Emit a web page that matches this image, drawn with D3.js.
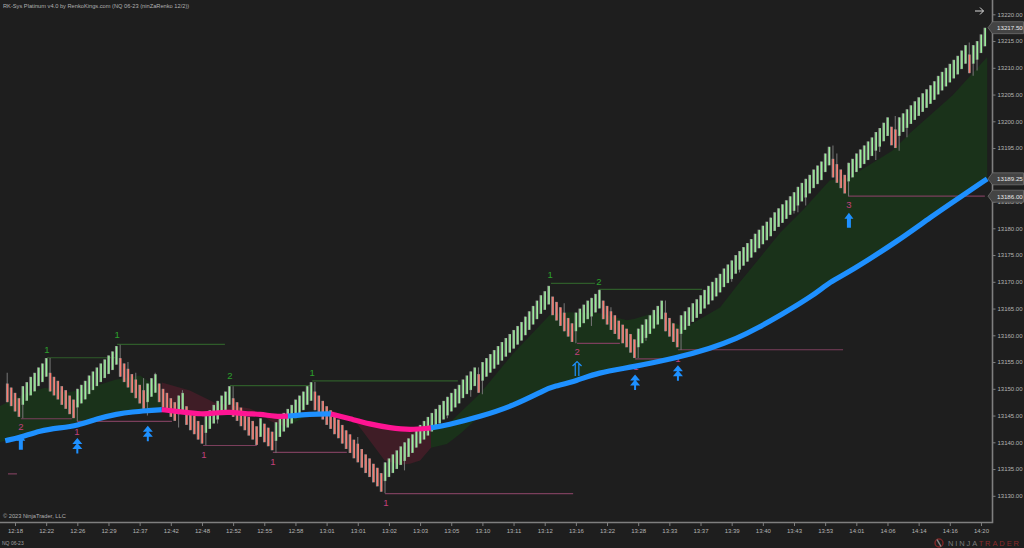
<!DOCTYPE html>
<html><head><meta charset="utf-8">
<script src="https://cdn.jsdelivr.net/npm/d3@7"></script>
<style>html,body{margin:0;background:#1e1e1e;overflow:hidden}svg{display:block}text{font-family:"Liberation Sans",Arial,sans-serif}</style>
</head><body><svg id="c" width="1024" height="548"></svg>
<script>
const timeLabels=["12:18","12:22","12:26","12:29","12:37","12:42","12:48","12:52","12:55","12:58","13:01","13:01","13:02","13:03","13:05","13:10","13:11","13:12","13:16","13:22","13:28","13:33","13:37","13:39","13:40","13:43","13:53","14:01","14:06","14:14","14:16","14:20"];
const priceTicks=[13130,13135,13140,13145,13150,13155,13160,13165,13170,13175,13180,13185,13190,13195,13200,13205,13210,13215,13220];
const closes=[
13147.5,13146.75,13145.75,13144.75,
13150.5,13151.25,13152.25,13153,13154,13154.75,13155.75,
13149.5,13148.75,13148,13147,13146.25,13145.25,13144.5,
13150,13150.75,13151.5,13152.5,13153.25,13154,13154.75,13155.5,13156.25,13157,13158,
13152.25,13151.25,13150.25,13149.25,13148.25,13147.25,13146.25,
13151,13152,13152.75,
13147.5,13146.5,13145.75,13144.75,13144,
13148.75,13149.25,
13143.25,13142.25,13141.5,13140.5,13139.75,
13145.25,13146,13147,13147.75,13148.75,13149.5,13150.5,
13144.75,13144,13143,13142.25,13141.25,13140.5,13139.5,
13144.5,
13140,13139.25,13138.5,
13143.75,13144.5,13145.5,13146.25,13147,13148,13148.75,13149.5,13150.5,13151.25,
13146,13145.25,13144.25,13143.25,13142.5,13141.5,13140.75,13139.75,13138.75,13138,13137,13136.25,13135.25,13134.25,13133.5,13132.5,13131.75,13130.75,
13136.25,13137,13137.75,13138.5,13139.25,13140,13140.75,13141.5,13142.5,13143.25,13144,13144.75,13145.5,13146.25,13147,13147.75,13148.5,13149.25,13150,13150.75,13151.75,13152.5,13153.25,13154,13149.25,13155,13155.75,13156.5,13157.25,13158,13158.75,13159.5,13160.25,13161,13161.75,13162.5,13163.5,13164.5,13165.5,13166.5,13167.5,13168.25,13169.25,
13163.75,13162.75,13161.75,13160.75,13159.75,13158.75,
13164.25,13165,13165.75,13166.5,13167,13167.75,13168.5,
13163,13162,13161,13160.25,13159.25,13158.5,13157.75,13156.75,13155.75,
13161.25,13162,13163,13163.75,13164.75,13165.5,13166.5,
13160.75,13159.75,13158.75,13157.75,
13163.75,13164.5,13165.25,13166,13166.75,13167.5,13168.5,13169.25,13170,13170.75,13171.5,13172.5,13173.25,13174,13175,13175.75,13176.5,13177.25,13178,13179,13179.75,13180.5,13181.25,13182,13183,13183.75,13184.5,13185.25,13186,13186.75,13187.75,13188.5,13189.25,13190,13191,13191.75,13192.5,13194,13195.25,
13189.5,13188.5,13187.5,13186.5,
13192.25,13193,13194,13194.75,13195.5,13196.25,13197,13198,13198.75,13199.75,13200.75,13195.5,13195,13200.75,13201.5,13202.25,13203,13203.75,13204.5,13205.25,13206,13206.75,13207.5,13208.5,13209.25,13210,13210.75,13211.5,13212.25,13213.25,13214.25,13209,13214.25,13215,13216.25,13217.5
];
const downRuns=[[0,3],[11,17],[29,35],[39,43],[46,50],[58,64],[66,68],[79,96],[121,121],[140,145],[153,161],[169,172],[212,215],[227,228],[247,247]];
const brick=3.5;
// [bar, high, low]
const wicks=[[0,13153,null],[11,13155.75,null],[29,13158.25,null],[31,13155,null],[33,13153,null],[35,13152,null],[36,null,13145],[38,13153,null],[44,null,13142.75],[45,13149.75,null],[54,null,13143.5],[58,13150.5,null],[4,null,13144.5],[18,null,13144],[51,null,13139.5],[69,null,13138],[79,13151.25,null],[90,13141,null],[97,null,13130.5],[102,null,13134.75],[113,null,13144.5],[119,null,13148.5],[121,13154,null],[122,null,13149],[133,null,13160.5],[143,13166,null],[146,null,13158.5],[150,null,13161.75],[155,13165.25,null],[162,null,13155.75],[164,null,13159],[169,13166.5,null],[173,null,13157.25],[186,null,13170],[188,null,13171.75],[196,null,13179.5],[202,null,13182.75],[203,null,13183],[205,null,13184.25],[212,13195.5,null],[213,13194,null],[216,null,13186],[223,null,13192.75],[224,null,13194.25],[228,13201,null],[229,null,13194.5],[231,null,13197],[247,13214.75,null],[248,null,13208.5],[249,null,13209.5]];

const emaBars=[-0.5,3.5,8.4,13.6,17.9,23.1,28.2,32.3,35.9,39.7,44.4,50.3,53.3,57.2,61.1,64.9,68.8,72.1,77.7,83.1,88,93.1,98.3,103.4,108.8,112.9,121.4,129.9,138.6,140.1,146.3,151.4,160.7,172,180.4,187.4,192.8,198.4,206.9,211.2,216.4,229.2,236.9,244.6,251.6];
const emaPrices=[13140.3,13140.9,13142.2,13142.7,13143.1,13144.4,13145.3,13145.7,13145.9,13146.1,13145.7,13145.2,13145.5,13145.7,13145.3,13145.3,13144.8,13144.9,13145.3,13145.3,13144.4,13143.4,13142.7,13142.3,13142.7,13143.2,13144.8,13146.8,13150,13150.4,13151.5,13153,13154.1,13155.8,13157.5,13159.4,13161.4,13163.7,13167.4,13170,13171.9,13177.9,13182,13185.8,13189.25];
// ema colour runs: [from bar, to bar, "up"|"dn"]
const emaRuns=[[-0.5,39.7,"up"],[39.7,72.1,"dn"],[72.1,83.1,"up"],[83.1,108.8,"dn"],[108.8,251.6,"up"]];
// cloud edges, each [[bar,price]...]
const cloudGreen1=[[-1.85,13140],[-1.85,13146.8],[4.6,13149.1],[9.7,13150.2],[15.4,13149.3],[20.5,13150],[27.7,13151.7],[34.1,13152.5],[38.7,13150.2],[39.7,13147]];
const cloudRed1=[[39.7,13151.2],[46.9,13149.7],[53.3,13147.4],[62.3,13146.3],[65.4,13145.3],[67.5,13144],[70.8,13143.1],[72.1,13143]];
const cloudGreen2=[[72.1,13143],[75.9,13144.6],[77.7,13145.3],[80.3,13146.1],[83.1,13146.1]];
const cloudRed2=[[83.1,13146.1],[86.2,13145],[88,13144.4],[89.8,13143.5],[96.9,13136.6],[100.9,13135.8],[103.4,13136],[106,13136.6],[108.8,13139]];
const cloudGreen3=[[108.8,13139],[112.9,13139.7],[116.3,13141.6],[120.6,13144.4],[121.4,13144.8]];
const cloudGreen4=[[112.9,13143.2],[121.4,13149.1],[129.9,13156.6],[139.4,13163.9],[143.8,13164.3],[152.2,13164.1],[156.6,13163.3],[159.1,13162.8],[161.2,13163.1],[165.8,13164.1],[174,13161.4],[183,13165.2],[187.4,13169.3],[198.4,13179.1],[204.3,13183.4],[211.2,13189],[215.9,13189.4],[223.3,13192.7],[227.4,13194.6],[231.8,13197.8],[242.8,13204.9],[251.6,13212]];
// [from bar, to bar, price]
const highLines=[[10.2,27.7,13155.8],[28.2,55.9,13158.3],[57.2,77.7,13150.6],[78.3,115.7,13151.5],[139.6,150.9,13169.7],[151.9,178.4,13168.6]];
const lowLines=[[0.2,2.5,13134.1],[3.5,16.6,13144.4],[17.9,42.3,13143.9],[50.3,64.1,13139.4],[68.2,87.2,13138.1],[97,145.3,13130.4],[146.3,157.3,13158.5],[161.2,172,13155.6],[172.2,214.6,13157.3],[215.9,251,13186]];
const greenLabels=[[10.2,13157.4,"1"],[28.2,13160.1,"1"],[57.2,13152.4,"2"],[78.3,13153.1,"1"],[139.4,13171.3,"1"],[151.9,13170.1,"2"]];
const pinkLabels=[[3.5,13142.9,"2"],[17.9,13142.1,"1"],[50.5,13137.8,"1"],[68.2,13136.5,"1"],[97.2,13128.7,"1"],[146.3,13156.9,"2"],[216.1,13184.4,"3"],[161.4,13154.1,"1"],[172.2,13155.6,"1"]];
const doubleArrows=[[18,13139.2],[36.1,13141.5],[161.2,13151.1],[172.2,13152.8]];
const solidArrows=[[3.5,13141.4],[216.1,13182.9]];
const hollowArrows=[[146.3,13155.2]];
const priceFlags=[[13217.5,"13217.50"],[13189.25,"13189.25"],[13186,"13186.00"]];

const svg=d3.select("#c");
const x=d3.scaleLinear().domain([0,251]).range([7.21,984.85]);
const y=d3.scaleLinear().domain([13220,13130]).range([14.3,495.8]);
const BLUE="#1e90ff",PINK="#ff1493",BAR_EDGE="#8c8c8c";
const lineGen=d3.line().x(d=>x(d[0])).y(d=>y(d[1]));

svg.append("rect").attr("width",1024).attr("height",548).attr("fill","#1e1e1e");

const emaPts=emaBars.map((b,i)=>[b,emaPrices[i]]);
function cloud(edge,color){
  const a=edge[0][0],b=edge[edge.length-1][0];
  const base=emaPts.filter(p=>p[0]>=a&&p[0]<=b).reverse();
  svg.append("path").attr("d",lineGen(edge.concat(base))+"Z").attr("fill",color);
}
const GC="#1a321a",RC="#3f1d26";
cloud(cloudGreen1,GC);cloud(cloudRed1,RC);cloud(cloudGreen2,GC);cloud(cloudRed2,RC);cloud(cloudGreen3,GC);cloud(cloudGreen4,GC);

const seg=(arr,c)=>svg.append("g").selectAll("line").data(arr).join("line")
  .attr("x1",d=>x(d[0])).attr("x2",d=>x(d[1])).attr("y1",d=>y(d[2])).attr("y2",d=>y(d[2]))
  .attr("stroke",c).attr("stroke-width",1.2);
seg(highLines,"#2f5c2a");seg(lowLines,"#7b3f5c");

const isDown=i=>downRuns.some(r=>i>=r[0]&&i<=r[1]);
const bars=closes.map((c,i)=>({i,c,d:isDown(i),o:isDown(i)?c+brick:c-brick}));
svg.append("g").selectAll("line").data(wicks).join("line")
  .attr("x1",d=>x(d[0])).attr("x2",d=>x(d[0]))
  .attr("y1",d=>y(d[1]!==null?d[1]:closes[d[0]]))
  .attr("y2",d=>y(d[2]!==null?d[2]:closes[d[0]]))
  .attr("stroke","#707070").attr("stroke-width",1.1);
svg.append("g").selectAll("rect.edge").data(bars).join("rect").attr("class","edge")
  .attr("x",d=>x(d.i)-1.3).attr("width",2.6)
  .attr("y",d=>y(Math.max(d.o,d.c))).attr("height",d=>Math.abs(y(d.o)-y(d.c)))
  .attr("fill",BAR_EDGE);
svg.append("g").selectAll("rect.body").data(bars).join("rect").attr("class","body")
  .attr("x",d=>x(d.i)-0.3).attr("width",1.4)
  .attr("y",d=>y(Math.max(d.o,d.c))+0.4).attr("height",d=>Math.abs(y(d.o)-y(d.c))-0.8)
  .attr("fill",d=>d.d?"#ff7a6e":"#98f298");

const text=(g,arr,c)=>g.selectAll("text").data(arr).join("text")
  .attr("x",d=>x(d[0])).attr("y",d=>y(d[1])).attr("text-anchor","middle").attr("dominant-baseline","central")
  .attr("font-size",9.5).attr("fill",c).text(d=>d[2]);
text(svg.append("g"),pinkLabels,"#c0407a");
text(svg.append("g"),greenLabels,"#2ca02c");

svg.append("g").selectAll("path").data(solidArrows).join("path")
  .attr("transform",d=>`translate(${x(d[0])},${y(d[1])})`)
  .attr("d","M0,0L4.5,6L2,6L2,15L-2,15L-2,6L-4.5,6Z").attr("fill",BLUE);
svg.append("g").selectAll("path").data(hollowArrows).join("path")
  .attr("transform",d=>`translate(${x(d[0])},${y(d[1])})`)
  .attr("d","M-4.5,5L0,0.5L4.5,5M-1.8,3L-1.8,15M1.8,3L1.8,15").attr("fill","none").attr("stroke",BLUE).attr("stroke-width",1.2);
svg.append("g").selectAll("path").data(doubleArrows).join("path")
  .attr("transform",d=>`translate(${x(d[0])},${y(d[1])})`)
  .attr("d","M0,-8.5L5,-2.5L-5,-2.5ZM0,-3.5L5,2.5L-5,2.5ZM-1,2L1,2L1,7L-1,7Z").attr("fill",BLUE);

emaRuns.forEach(r=>{
  const pts=emaPts.filter(p=>p[0]>=r[0]&&p[0]<=r[1]);
  svg.append("path").attr("d",d3.line().x(d=>x(d[0])).y(d=>y(d[1])).curve(d3.curveBasis)(pts))
    .attr("fill","none").attr("stroke",r[2]==="up"?BLUE:PINK).attr("stroke-width",5.2);
});

// axes
const AX="#7f7f7f",TX="#b4b4b4";
const xAxis=d3.axisBottom(x).tickValues(timeLabels.map((_,k)=>2+8*k)).tickFormat((_,k)=>timeLabels[k]).tickSize(3).tickPadding(3);
const gx=svg.append("g").attr("transform","translate(0,523)").call(xAxis);
gx.select(".domain").remove();
gx.selectAll("line").attr("stroke",AX);
gx.selectAll("text").attr("fill",TX).attr("font-size",6);
const yAxis=d3.axisRight(y).tickValues(priceTicks).tickFormat(d3.format(".2f")).tickSize(3).tickPadding(2);
const gy=svg.append("g").attr("transform","translate(992.5,0)").call(yAxis);
gy.select(".domain").remove();
gy.selectAll("line").attr("stroke",AX);
gy.selectAll("text").attr("fill",TX).attr("font-size",6);
svg.append("path").attr("d","M0,522.5H992.5V0").attr("fill","none").attr("stroke",AX).attr("stroke-width",1.6);

priceFlags.forEach(f=>{
  const yy=y(f[0]);
  svg.append("path").attr("d",`M988,${yy}L992.5,${yy-6}H1023.5V${yy+6}H992.5Z`).attr("fill","#444").attr("stroke","#777").attr("stroke-width",0.7);
  svg.append("text").attr("x",997).attr("y",yy).attr("dominant-baseline","central").attr("font-size",6.2).attr("fill","#e8e8e8").text(f[1]);
});

svg.append("path").attr("d","M975,11H983.5M980,7.5L983.5,11L980,14.5").attr("fill","none").attr("stroke","#d8d8d8").attr("stroke-width",1);

svg.append("text").attr("x",3).attr("y",8).attr("font-size",5.7).attr("fill","#b0b0b0").text("RK-Sys Platinum v4.0 by RenkoKings.com (NQ 06-23 (ninZaRenko 12/2))");
svg.append("text").attr("x",3).attr("y",518).attr("font-size",5.7).attr("fill","#b0b0b0").text("© 2023 NinjaTrader, LLC");
svg.append("text").attr("x",2).attr("y",545).attr("font-size",5).attr("fill","#a0a0a0").text("NQ 06-23");

const logo=svg.append("g");
logo.append("circle").attr("cx",939).attr("cy",543).attr("r",4).attr("fill","none").attr("stroke","#7a2525").attr("stroke-width",1.5);
logo.append("path").attr("d","M937,539.5L941,546.5").attr("stroke","#888").attr("stroke-width",1.5);
const lt=logo.append("text").attr("x",948).attr("y",546).attr("font-size",7.5).attr("letter-spacing",1.9);
lt.append("tspan").attr("fill","#7a7a7a").text("NINJA");
lt.append("tspan").attr("fill","#8a2b2b").text("TRADER");
</script></body></html>
